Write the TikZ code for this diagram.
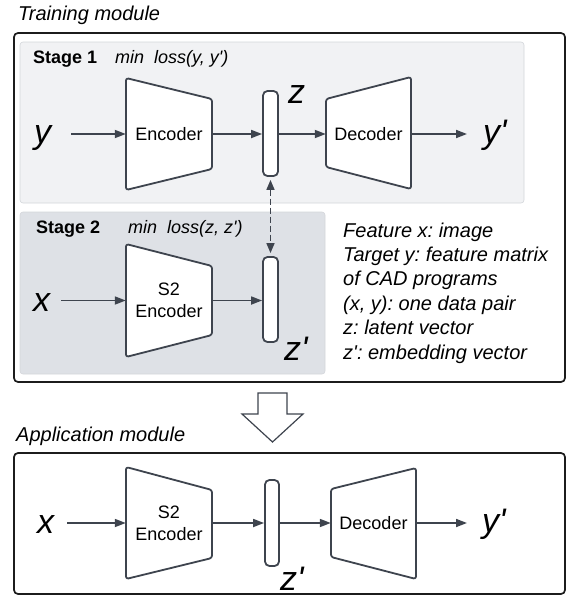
\documentclass[tikz,border=0pt]{standalone}
\usepackage{fontspec}
\setmainfont{Liberation Sans}
\usetikzlibrary{arrows.meta}
\frenchspacing
\newcommand{\pq}{\textquotesingle}
\definecolor{ln}{HTML}{3E444E}
\definecolor{frame}{HTML}{1C1C1C}
\definecolor{stA}{HTML}{F1F2F4}
\definecolor{stB}{HTML}{DEE1E6}
\definecolor{stBorder}{HTML}{D3D6DA}
\tikzset{
  frm/.style={draw=frame, line width=1.7pt, rounded corners=4pt},
  stagebox/.style={draw=stBorder, line width=0.6pt, rounded corners=3pt},
  trap/.style={draw=ln, fill=white, line width=1.8pt, rounded corners=2.5pt, line join=round},
  trapnode/.style={minimum width=86pt, minimum height=112pt, inner sep=0pt, align=center, font=\fontsize{18}{22}\selectfont},
  barbox/.style={draw=ln, fill=white, line width=1.8pt, rounded corners=4.5pt, minimum width=15pt, minimum height=85pt, inner sep=0pt},
  conn/.style={draw=ln, line width=1.7pt, -{Triangle[length=11pt,width=8pt]}},
  bigvar/.style={font=\fontsize{34}{34}\selectfont\itshape, inner sep=0pt, anchor=base west},
  title/.style={font=\fontsize{20}{24}\selectfont\itshape, inner sep=0pt, anchor=base west},
  legend/.style={font=\fontsize{20}{24}\selectfont\itshape, inner sep=0pt, anchor=base west},
  stlabel/.style={font=\fontsize{18}{22}\selectfont\bfseries, inner sep=0pt, anchor=base west},
  stloss/.style={font=\fontsize{18}{22}\selectfont\itshape, inner sep=0pt, anchor=base west}
}
\begin{document}
\begin{tikzpicture}[x=1pt,y=-1pt]
\useasboundingbox (0,0) rectangle (567,597);
% titles
\node[title] (ttrain) at (18,20) {Training module};
\node[title] (tapp) at (16,441) {Application module};
% frames
\draw[frm] (14,33) rectangle (565,382);
\draw[frm] (14,453) rectangle (565,594);
% stage boxes
\draw[stagebox, fill=stA] (20,42) rectangle (524,203);
\draw[stagebox, fill=stB] (20,212) rectangle (325,374);
\node[stlabel] (s1) at (33,63) {Stage 1};
\node[stloss] (l1) at (115,63) {min\ \ loss(y, y\pq)};
\node[stlabel] (s2) at (36,233) {Stage 2};
\node[stloss] (l2) at (128,233) {min\ \ loss(z, z\pq)};
% ---------- Stage 1 ----------
\draw[trap] (126,78) -- (212,99) -- (212,169) -- (126,190) -- cycle;
\node[trapnode] (enc1) at (169,134) {Encoder};
\draw[trap] (326,99) -- (411,77) -- (411,189) -- (326,167) -- cycle;
\node[trapnode, minimum width=85pt] (dec1) at (368.5,134) {Decoder};
\node[barbox] (bar1) at (270.5,133.5) {};
\node[bigvar] (yin) at (34,143) {y};
\node[bigvar] (yout) at (483,143) {y\pq};
\node[bigvar] (z1) at (288,103) {z};
\coordinate (ys) at (71,134);
\coordinate (ye) at (467,134);
\draw[conn] (ys) -- (enc1.west);
\draw[conn] (enc1.east) -- (bar1.west |- enc1.east);
\draw[conn] (bar1.east |- dec1.west) -- (dec1.west);
\draw[conn] (dec1.east) -- (ye);
% ---------- Stage 2 ----------
\draw[trap] (126,244) -- (212,266) -- (212,335) -- (126,357) -- cycle;
\node[trapnode] (enc2) at (169,300.5) {S2\\Encoder};
\node[barbox] (bar2) at (270.5,299.5) {};
\node[bigvar] (xin) at (33,311) {x};
\node[bigvar] (z2) at (284,360) {z\pq};
\coordinate (xs) at (61,300.5);
\draw[conn] (xs) -- (enc2.west);
\draw[conn] (enc2.east) -- (bar2.west |- enc2.east);
\draw[draw=ln, line width=1.6pt, dash pattern=on 6pt off 3pt,
      {Triangle[length=10pt,width=8pt]}-{Triangle[length=10pt,width=8pt]},
      shorten <=3pt, shorten >=3pt] (bar1.south) -- (bar2.north);
% legend
\node[legend] (lg1) at (343,237) {Feature x: image};
\node[legend] (lg2) at (343,261.4) {Target y: feature matrix};
\node[legend] (lg3) at (343,285.8) {of CAD programs};
\node[legend] (lg4) at (343,310.2) {(x, y): one data pair};
\node[legend] (lg5) at (343,334.6) {z: latent vector};
\node[legend] (lg6) at (343,359) {z\pq: embedding vector};
% ---------- down arrow ----------
\draw[draw=ln, fill=white, line width=1.2pt, line join=miter]
  (258,393) -- (287,393) -- (287,414) -- (303,414) -- (272.5,442) -- (242,414) -- (258,414) -- cycle;
% ---------- Application ----------
\draw[trap] (126,467) -- (212,490) -- (212,558) -- (126,579) -- cycle;
\node[trapnode] (enc3) at (169,523) {S2\\Encoder};
\draw[trap] (331,489) -- (416,468) -- (416,579) -- (331,557) -- cycle;
\node[trapnode, minimum width=85pt] (dec3) at (373.5,523) {Decoder};
\node[barbox, minimum width=14pt, minimum height=86pt] (bar3) at (272,523) {};
\node[bigvar] (xapp) at (37,533) {x};
\node[bigvar] (yapp) at (482,532) {y\pq};
\node[bigvar] (z3) at (280,590) {z\pq};
\coordinate (xs3) at (67,523);
\coordinate (ye3) at (467,523);
\draw[conn] (xs3) -- (enc3.west);
\draw[conn] (enc3.east) -- (bar3.west);
\draw[conn] (bar3.east) -- (dec3.west);
\draw[conn] (dec3.east) -- (ye3);
\end{tikzpicture}
\end{document}
